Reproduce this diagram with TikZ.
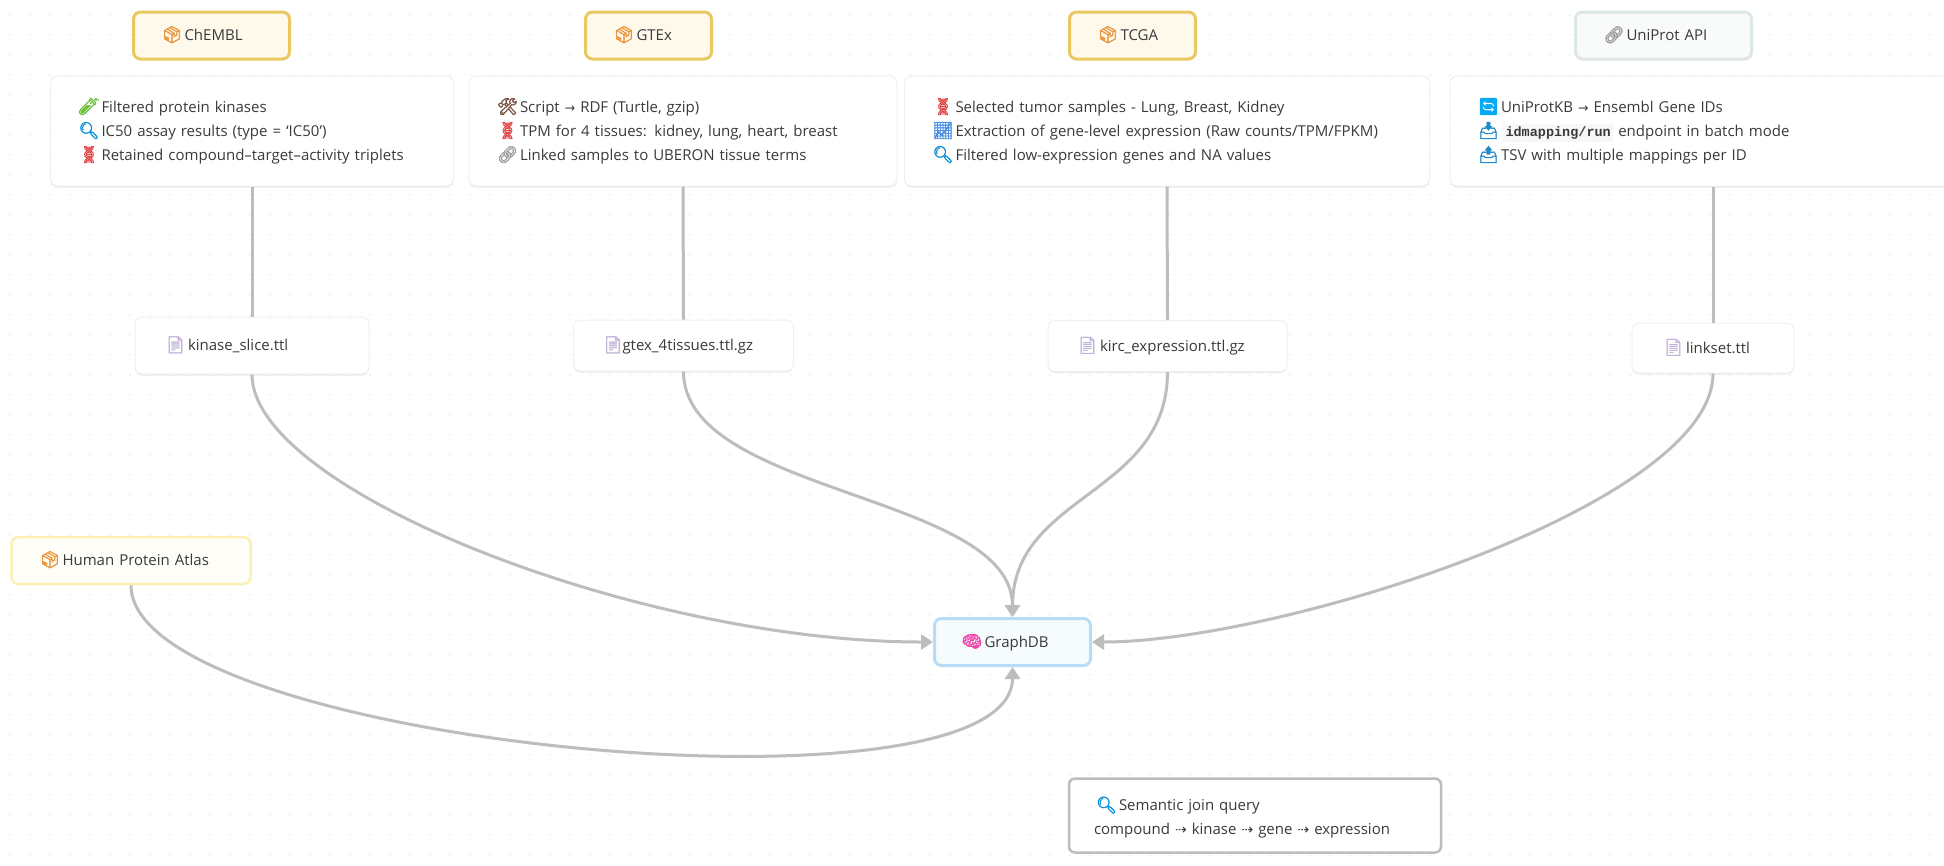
\documentclass[tikz,border=0pt]{standalone}
\usepackage{fontspec}
\setmainfont{Open Sans}
\newfontfamily\emojifont[FakeBold=2.5]{Noto Emoji}
\newfontfamily\emojilight[FakeBold=0.8]{Noto Emoji}
\newfontfamily\symfont{DejaVu Sans}
\newfontfamily\codefont{Liberation Mono}
\usetikzlibrary{arrows.meta,shadows}
\definecolor{inkc}{HTML}{3A3A3A}
\definecolor{edgec}{HTML}{BDBDBD}
\definecolor{dotc}{HTML}{E6E6E6}
\definecolor{boxc}{HTML}{F0F0F0}
\definecolor{goldb}{HTML}{E9C862}
\definecolor{goldf}{HTML}{FFF9EC}
\definecolor{uniB}{HTML}{DDE7E3}
\definecolor{uniF}{HTML}{F8FBFA}
\definecolor{hpaB}{HTML}{FBF0B4}
\definecolor{hpaF}{HTML}{FFFDF7}
\definecolor{gdbB}{HTML}{B8DCF5}
\definecolor{gdbF}{HTML}{F6FBFE}
\definecolor{chipc}{HTML}{F7F7F7}
\definecolor{ePack}{HTML}{E8973F}
\definecolor{eTube}{HTML}{6CBF3A}
\definecolor{eLens}{HTML}{0A90D8}
\definecolor{eDna}{HTML}{E0403F}
\definecolor{eTool}{HTML}{7A5548}
\definecolor{eLink}{HTML}{9E9E9E}
\definecolor{eChart}{HTML}{4A90E2}
\definecolor{eDoc}{HTML}{C3B3DA}
\definecolor{eSync}{HTML}{03A9F4}
\definecolor{eTray}{HTML}{1E88C8}
\definecolor{eBrain}{HTML}{F048A8}
\newcommand{\emo}[3][23pt]{\makebox[#1][l]{\color{#2}{\fontsize{16.5}{16.5}\emojifont #3}}}
\newcommand{\dnaicon}{\makebox[23pt][l]{\color{eDna}{\fontsize{16.5}{16.5}\emojilight 🧬}}}
\newcommand{\arr}{{\symfont\fontsize{12.5}{12.5}\selectfont →}}
\newcommand{\darr}{{\symfont\fontsize{14}{14}\selectfont ⇢}}
\tikzset{
  x=1pt,y=-1pt,
  lbl/.style={font=\fontsize{15}{24}\selectfont,text=inkc,align=left,rounded corners=7pt,inner ysep=0pt},
  src/.style={lbl,line width=3pt,draw=goldb,fill=goldf,minimum height=47pt,text height=12pt,text depth=2pt},
  card/.style={lbl,draw=boxc,line width=1pt,fill=white,minimum height=110pt,
    drop shadow={shadow xshift=0pt,shadow yshift=-1.5pt,opacity=.08,fill=black}},
  filebox/.style={card,text height=12pt,text depth=2pt},
  wire/.style={draw=edgec,line width=3pt},
  tipped/.style={wire,-{Triangle[length=12pt,width=15pt]}}
}
\begin{document}
\begin{tikzpicture}
\useasboundingbox (0,0) rectangle (1944,865);
\fill[white] (0,0) rectangle (1944,865);
\foreach \i in {0,...,96}{\foreach \j in {0,...,42}{\fill[dotc] (10+20*\i,15+20*\j) circle[radius=.8pt];}}

% sources
\node[src,inner xsep=28pt,text width=100pt] (chembl) at (211.5,35.5) {\emo{ePack}{📦}ChEMBL};
\node[src,inner xsep=28pt,text width=70pt] (gtex) at (648.5,35.5) {\emo{ePack}{📦}GTEx};
\node[src,inner xsep=28pt,text width=70pt] (tcga) at (1132.5,35.5) {\emo{ePack}{📦}TCGA};
\node[src,draw=uniB,fill=uniF,inner xsep=28pt,text width=120pt] (uni) at (1663.5,35.5) {\emo{eLink}{🔗}UniProt API};
\node[src,line width=2.5pt,draw=hpaB,fill=hpaF,inner xsep=28pt,text width=183pt] (hpa) at (131,560.5) {\emo{ePack}{📦}Human Protein Atlas};

% process cards
\node[card,inner xsep=28pt,text width=347pt] (c1) at (252,131) {\emo{eTube}{🧪}Filtered protein kinases\\\emo{eLens}{🔍}IC50 assay results (type = ‘IC50’)\\\dnaicon Retained compound–target–activity triplets};
\node[card,inner xsep=28pt,text width=372pt] (c2) at (683,131) {\emo{eTool}{🛠}Script \arr{} RDF (Turtle, gzip)\\\dnaicon TPM for 4 tissues: kidney, lung, heart, breast\\\emo{eLink}{🔗}Linked samples to UBERON tissue terms};
\node[card,inner xsep=28pt,text width=469pt] (c3) at (1167,131) {\dnaicon Selected tumor samples - Lung, Breast, Kidney\\\emo{eChart}{📈}Extraction of gene-level expression (Raw counts/TPM/FPKM)\\\emo{eLens}{🔍}Filtered low-expression genes and NA values};
\node[card,inner xsep=28pt,text width=470pt] (c4) at (1713,131) {\emo{eSync}{🔄}UniProtKB \arr{} Ensembl Gene IDs\\\emo{eTray}{📥}\hspace{2pt}{\setlength{\fboxsep}{2.5pt}\colorbox{chipc}{\codefont\bfseries\fontsize{13.5}{13.5}\selectfont idmapping/run}} endpoint in batch mode\\\emo{eTray}{📤}TSV with multiple mappings per ID};

% files
\node[filebox,minimum height=57pt,inner xsep=30pt,text width=174pt] (f1) at (252,345.5) {\emo{eDoc}{📄}kinase\_slice.ttl};
\node[filebox,minimum height=51pt,inner xsep=29pt,text width=162pt] (f2) at (683.5,345.5) {\emo[20pt]{eDoc}{📄}gtex\_4tissues.ttl.gz};
\node[filebox,minimum height=51pt,inner xsep=29pt,text width=181pt] (f3) at (1167.5,346) {\emo{eDoc}{📄}kirc\_expression.ttl.gz};
\node[filebox,minimum height=50pt,inner xsep=31pt,text width=100pt] (f4) at (1713,348) {\emo{eDoc}{📄}linkset.ttl};

% sink
\node[src,draw=gdbB,fill=gdbF,minimum height=47pt,inner xsep=27pt,text width=102pt] (gdb) at (1012.5,642) {\emo{eBrain}{🧠}GraphDB};

% note
\node[lbl,draw=edgec,line width=2.5pt,fill=white,rounded corners=6pt,minimum height=74pt,inner xsep=25pt,text width=322pt] (note) at (1255,815.5) {\rule{0pt}{18pt}\hspace*{2pt}\emo{eLens}{🔍}Semantic join query\\compound \darr{} kinase \darr{} gene \darr{} expression};

% connectors
\draw[wire] (c1.south) -- (f1.north);
\draw[wire] (c2.south) -- (f2.north);
\draw[wire] (c3.south) -- (f3.north);
\draw[wire] (c4.south) -- (f4.north);
\draw[tipped] (f1.south) .. controls +(0,116) and +(-293,0) .. (gdb.west);
\draw[tipped] (f2.south) .. controls +(0,123) and +(0,-123) .. (gdb.north);
\draw[tipped] (f3.south) .. controls +(0,123) and +(0,-123) .. (gdb.north);
\draw[tipped] (f4.south) .. controls +(0,131) and +(188,0) .. (gdb.east);
\draw[tipped] (hpa.south) .. controls +(0,160) and +(0,160) .. (gdb.south);
\end{tikzpicture}
\end{document}
